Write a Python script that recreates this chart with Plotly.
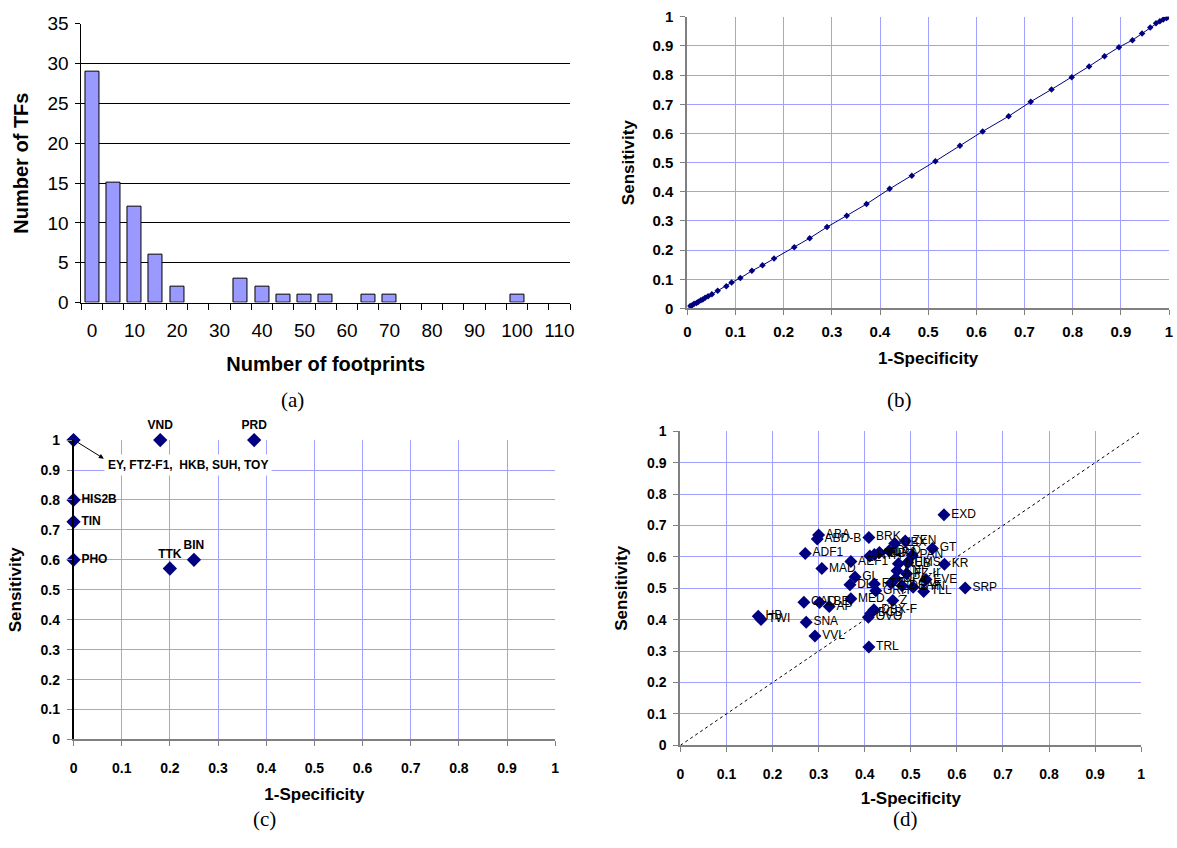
import plotly.graph_objects as go

W, H = 1177, 848

# ---------------- data ----------------
# (a) histogram of footprints
a_categories = [0, 5, 10, 15, 20, 25, 30, 35, 40, 45, 50, 55, 60, 65, 70, 75, 80, 85, 90, 95, 100, 105, 110]
a_counts = [29, 15, 12, 6, 2, 0, 0, 3, 2, 1, 1, 1, 0, 1, 1, 0, 0, 0, 0, 0, 1, 0, 0]
a_ticklabels = [0, 10, 20, 30, 40, 50, 60, 70, 80, 90, 100, 110]

# (b) ROC curve
b_x = [0.006, 0.010, 0.014, 0.019, 0.023, 0.028, 0.032, 0.037, 0.043, 0.051, 0.063, 0.081, 0.092,
       0.110, 0.134, 0.156, 0.180, 0.222, 0.254, 0.290, 0.331, 0.372, 0.420, 0.466, 0.515, 0.566,
       0.613, 0.667, 0.713, 0.756, 0.798, 0.834, 0.866, 0.896, 0.924, 0.944, 0.961, 0.973, 0.981,
       0.988, 0.995, 1.0]
b_y = [0.008, 0.011, 0.016, 0.019, 0.023, 0.028, 0.031, 0.037, 0.042, 0.049, 0.061, 0.076, 0.089,
       0.104, 0.129, 0.148, 0.171, 0.210, 0.241, 0.279, 0.318, 0.358, 0.410, 0.455, 0.505, 0.558,
       0.607, 0.659, 0.709, 0.751, 0.793, 0.830, 0.865, 0.896, 0.920, 0.943, 0.963, 0.978, 0.985,
       0.991, 0.996, 1.0]

# (c) points
c_labels = ["", "VND", "PRD", "HIS2B", "TIN", "PHO", "TTK", "BIN"]
c_x = [0.0, 0.18, 0.375, 0.0, 0.0, 0.0, 0.2, 0.25]
c_y = [1.0, 1.0, 1.0, 0.8, 0.727, 0.6, 0.571, 0.6]
c_group_label = "EY, FTZ-F1,  HKB, SUH, TOY"

# (d) points
d_labels = ["EXD", "ABA", "ABD-B", "BRK", "UBX", "ZEN", "GT", "ADF1", "HTH", "ABD-A", "SLP1",
            "DFD", "PAN", "AEF1", "MAD", "KR", "NUB", "EMS", "KNI", "FZ-II", "EVE", "GL", "DL",
            "FTZ", "EN", "OPA", "DEAF", "BYN", "TLL", "SRP", "GRH", "Z", "MED", "CAD", "LBE",
            "AP", "DBX-F", "BCD", "OVO", "HB", "TWI", "SNA", "VVL", "TRL"]
d_x = [0.572, 0.300, 0.297, 0.409, 0.465, 0.488, 0.547, 0.271, 0.411, 0.421, 0.432,
       0.453, 0.503, 0.370, 0.307, 0.573, 0.473, 0.493, 0.470, 0.491, 0.533, 0.379, 0.368,
       0.421, 0.457, 0.467, 0.481, 0.505, 0.528, 0.618, 0.424, 0.461, 0.370, 0.268, 0.302,
       0.323, 0.420, 0.413, 0.408, 0.169, 0.175, 0.273, 0.292, 0.409]
d_y = [0.734, 0.670, 0.657, 0.662, 0.643, 0.651, 0.627, 0.611, 0.603, 0.608, 0.614,
       0.620, 0.605, 0.585, 0.563, 0.577, 0.578, 0.582, 0.556, 0.546, 0.528, 0.536, 0.511,
       0.514, 0.516, 0.531, 0.508, 0.503, 0.490, 0.501, 0.492, 0.461, 0.467, 0.456, 0.455,
       0.442, 0.432, 0.420, 0.408, 0.411, 0.401, 0.392, 0.348, 0.313]

# ---------------- styling helpers ----------------
NAVY = "#000080"
GRID = "#a0a0ff"
AX_GRAY = "#808080"
SANS = "Liberation Sans, Arial, sans-serif"
SERIF = "Liberation Serif, Times New Roman, serif"


def px_dom_x(x0, x1):
    return [x0 / W, x1 / W]


def px_dom_y(ytop, ybot):
    return [1 - ybot / H, 1 - ytop / H]


fig = go.Figure()

# (a)  (empty categories get no outline so they stay invisible)
fig.add_trace(go.Bar(x=a_categories, y=a_counts, width=3.3,
                     marker=dict(color="#9999ff",
                                 line=dict(color="black", width=[1 if c > 0 else 0 for c in a_counts])),
                     xaxis="x", yaxis="y", showlegend=False))
# (b)
fig.add_trace(go.Scatter(x=b_x, y=b_y, mode="lines+markers",
                         line=dict(color=NAVY, width=1),
                         marker=dict(color=NAVY, size=5, symbol="diamond"),
                         xaxis="x2", yaxis="y2", showlegend=False))
# (c)
c_pos = ["middle right", "top center", "top center", "middle right", "middle right",
         "middle right", "top center", "top center"]
fig.add_trace(go.Scatter(x=c_x, y=c_y, mode="markers+text", text=c_labels,
                         textposition=c_pos,
                         textfont=dict(family=SANS, size=12, color="black", weight="bold"),
                         marker=dict(color=NAVY, size=11, symbol="diamond"),
                         cliponaxis=False,
                         xaxis="x3", yaxis="y3", showlegend=False))
# (d)
fig.add_trace(go.Scatter(x=[0, 1], y=[0, 1], mode="lines",
                         line=dict(color="black", width=1, dash="dot"),
                         xaxis="x4", yaxis="y4", showlegend=False))
fig.add_trace(go.Scatter(x=d_x, y=d_y, mode="markers+text", text=d_labels,
                         textposition="middle right",
                         textfont=dict(family=SANS, size=12, color="black"),
                         marker=dict(color=NAVY, size=10, symbol="diamond"),
                         cliponaxis=False,
                         xaxis="x4", yaxis="y4", showlegend=False))

unit_ticks = [round(0.1 * i, 1) for i in range(11)]
unit_text = ["0"] + [f"{v:g}" for v in unit_ticks[1:-1]] + ["1"]


def unit_axis(domain, anchor, linecolor, title, tsize, title_size, standoff, lstandoff):
    return dict(domain=domain, anchor=anchor, range=[0, 1], tickvals=unit_ticks, ticktext=unit_text,
                showgrid=True, gridcolor=GRID, gridwidth=1, zeroline=False,
                showline=True, linecolor=linecolor, linewidth=2,
                ticks="outside", ticklen=5, tickcolor=AX_GRAY, tickwidth=1,
                ticklabelstandoff=lstandoff,
                tickfont=dict(family=SANS, size=tsize, color="black", weight="bold"),
                title=dict(text=title, font=dict(family=SANS, size=title_size, color="black", weight="bold"),
                           standoff=standoff))


layout = dict(
    width=W, height=H, margin=dict(l=0, r=0, t=0, b=0),
    paper_bgcolor="white", plot_bgcolor="white",
    bargap=0,
    # (a)
    xaxis=dict(domain=px_dom_x(78, 570), anchor="y", range=[-2.5, 112.5],
               tickvals=a_ticklabels, ticks="", showgrid=False, zeroline=False,
               showline=True, linecolor="black", linewidth=1,
               minor=dict(tickmode="array", tickvals=[-2.5 + 5 * i for i in range(24)],
                          ticks="outside", ticklen=6, tickcolor="black", tickwidth=1, showgrid=False),
               tickfont=dict(family=SANS, size=19, color="black"), ticklabelstandoff=11,
               title=dict(text="Number of footprints",
                          font=dict(family=SANS, size=20, color="black", weight="bold"), standoff=16)),
    yaxis=dict(domain=px_dom_y(14, 300), anchor="x", range=[0, 35], dtick=5,
               showgrid=True, gridcolor="black", gridwidth=1, zeroline=False,
               showline=True, linecolor="black", linewidth=1,
               ticks="outside", ticklen=5, tickcolor="black",
               tickfont=dict(family=SANS, size=19, color="black"), ticklabelstandoff=3,
               title=dict(text="Number of TFs",
                          font=dict(family=SANS, size=20, color="black", weight="bold"), standoff=13)),
    # (b)
    xaxis2=unit_axis(px_dom_x(688, 1173), "y2", AX_GRAY, "1-Specificity", 15, 17, 13, 4),
    yaxis2=unit_axis(px_dom_y(7, 306), "x2", AX_GRAY, "Sensitivity", 15, 17, 13, 4),
    # (c)
    xaxis3=unit_axis(px_dom_x(70, 555), "y3", AX_GRAY, "1-Specificity", 14, 17, 13, 10),
    yaxis3=unit_axis(px_dom_y(441, 748), "x3", "black", "Sensitivity", 14, 17, 15, 4),
    # (d)
    xaxis4=unit_axis(px_dom_x(681, 1145), "y4", AX_GRAY, "1-Specificity", 14, 17, 11, 10),
    yaxis4=unit_axis(px_dom_y(432, 754), "x4", AX_GRAY, "Sensitivity", 14, 17, 15, 4),
)
layout["yaxis3"]["linewidth"] = 1.5
fig.update_layout(**layout)

# panel captions
for txt, xp, yp in [("(a)", 290, 400), ("(b)", 902, 400), ("(c)", 262, 830), ("(d)", 908, 830)]:
    fig.add_annotation(text=txt, x=xp / W, y=1 - yp / H, xref="paper", yref="paper",
                       showarrow=False, font=dict(family=SERIF, size=21, color="black"),
                       xanchor="center", yanchor="middle")

# (c) group label and arrow
fig.add_annotation(text=c_group_label, x=0.237, y=0.918, xref="x3", yref="y3",
                   showarrow=False, bgcolor="white", borderpad=3,
                   font=dict(family=SANS, size=12, color="black", weight="bold"),
                   xanchor="center", yanchor="middle")
fig.add_annotation(text="", x=0.063, y=0.938, xref="x3", yref="y3",
                   ax=0.005, ay=0.996, axref="x3", ayref="y3",
                   showarrow=True, arrowhead=2, arrowsize=1, arrowwidth=1, arrowcolor="black")

fig.write_html("out.html")
